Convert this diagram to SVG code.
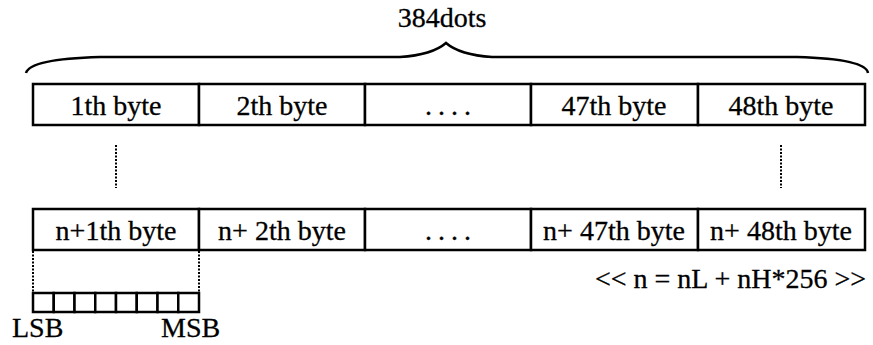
<svg xmlns="http://www.w3.org/2000/svg" width="873" height="345" viewBox="0 0 873 345">
<style>
  .t { font-family: "Liberation Serif", "Times New Roman", serif; font-size: 28px; fill: #000; stroke: #000; stroke-width: 0.3; }
  .m { text-anchor: middle; }
  .cell { fill: #fff; stroke: #000; stroke-width: 2.5; }
  .bit { fill: #fff; stroke: #000; stroke-width: 2.5; }
  .dot { fill: none; stroke: #000; stroke-width: 2; stroke-dasharray: 2 1.5; }
  .brace { fill: none; stroke: #000; stroke-width: 2.5; }
  .ell { letter-spacing: 6px; }
</style>
<rect width="873" height="345" fill="#fff"/>
<g id="brace">
  <path class="brace" d="M26,73 Q30,59 100,57 L400,57 Q432,55 446,43 Q460,55 492,57 L797,57 Q866,59 868,73"/>
  <text class="t m" x="442" y="27" font-size="27">384dots</text>
</g>
<g id="row1">
  <g id="r1c1"><rect class="cell" x="33" y="84" width="166" height="41"/><text class="t m" x="116" y="115">1th byte</text></g>
  <g id="r1c2"><rect class="cell" x="199" y="84" width="166" height="41"/><text class="t m" x="282" y="115">2th byte</text></g>
  <g id="r1c3"><rect class="cell" x="365" y="84" width="166" height="41"/><text class="t m ell" x="451" y="115">....</text></g>
  <g id="r1c4"><rect class="cell" x="531" y="84" width="167" height="41"/><text class="t m" x="614" y="115">47th byte</text></g>
  <g id="r1c5"><rect class="cell" x="698" y="84" width="167" height="41"/><text class="t m" x="781" y="115">48th byte</text></g>
</g>
<g id="row2">
  <g id="r2c1"><rect class="cell" x="33" y="209" width="166" height="41"/><text class="t m" x="116" y="240">n+1th byte</text></g>
  <g id="r2c2"><rect class="cell" x="199" y="209" width="166" height="41"/><text class="t m" x="282" y="240">n+ 2th byte</text></g>
  <g id="r2c3"><rect class="cell" x="365" y="209" width="166" height="41"/><text class="t m ell" x="451" y="240">....</text></g>
  <g id="r2c4"><rect class="cell" x="531" y="209" width="167" height="41"/><text class="t m" x="614" y="240">n+ 47th byte</text></g>
  <g id="r2c5"><rect class="cell" x="698" y="209" width="167" height="41"/><text class="t m" x="781" y="240">n+ 48th byte</text></g>
</g>
<g id="connectors">
  <line class="dot" x1="116" y1="145" x2="116" y2="188"/>
  <line class="dot" x1="781" y1="145" x2="781" y2="188"/>
  <line class="dot" x1="33" y1="251" x2="33" y2="292"/>
  <line class="dot" x1="199" y1="251" x2="199" y2="292"/>
</g>
<g id="bits">
  <rect class="bit" x="33" y="293" width="20.75" height="19"/>
  <rect class="bit" x="53.75" y="293" width="20.75" height="19"/>
  <rect class="bit" x="74.5" y="293" width="20.75" height="19"/>
  <rect class="bit" x="95.25" y="293" width="20.75" height="19"/>
  <rect class="bit" x="116" y="293" width="20.75" height="19"/>
  <rect class="bit" x="136.75" y="293" width="20.75" height="19"/>
  <rect class="bit" x="157.5" y="293" width="20.75" height="19"/>
  <rect class="bit" x="178.25" y="293" width="20.75" height="19"/>
  <text class="t" x="12" y="337">LSB</text>
  <text class="t" x="161" y="337">MSB</text>
</g>
<g id="formula">
  <text class="t" x="866" y="288" text-anchor="end">&lt;&lt; n = nL + nH*256 &gt;&gt;</text>
</g>
</svg>
